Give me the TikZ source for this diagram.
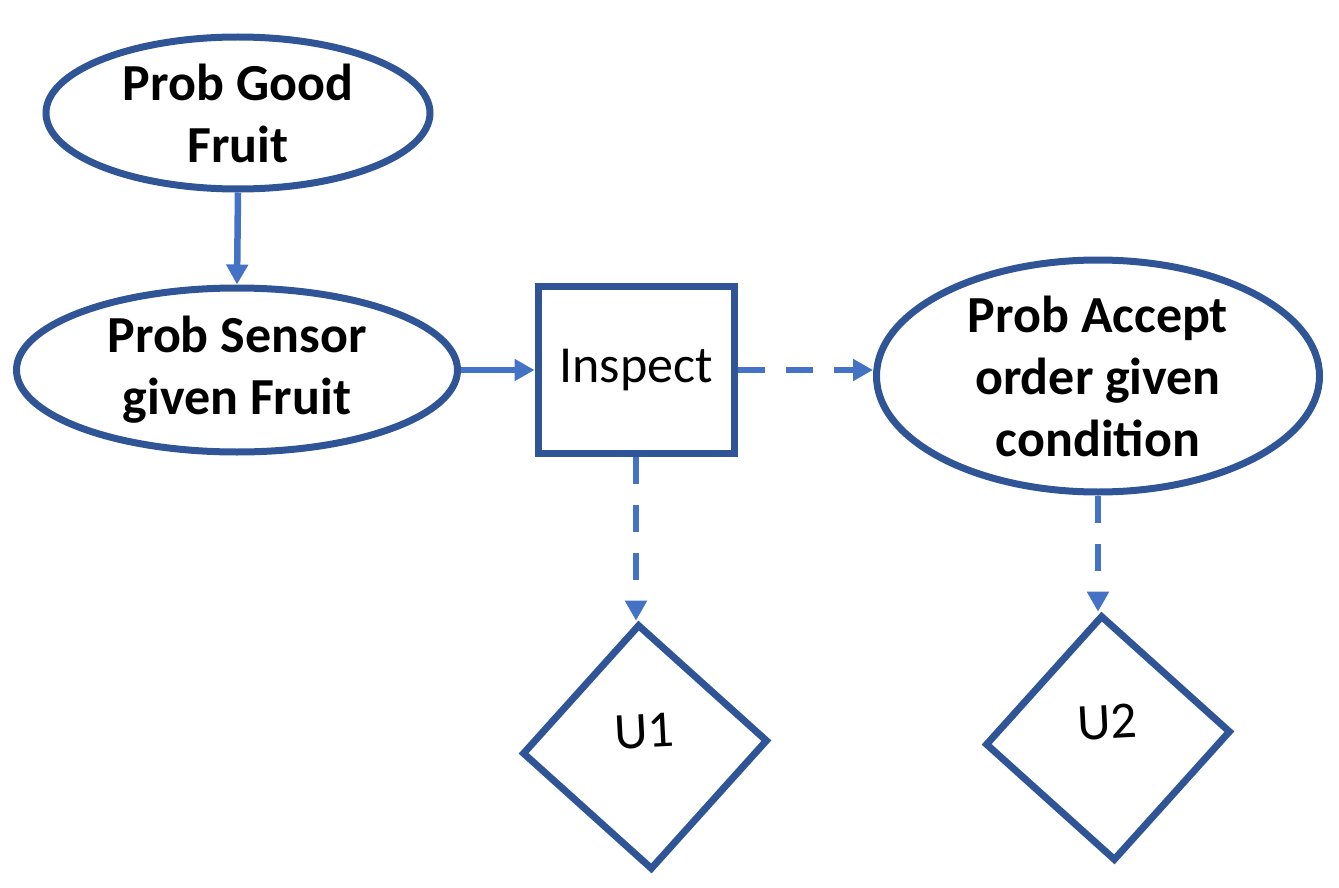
\documentclass[tikz,border=0pt]{standalone}
\usepackage{fontspec}
\setmainfont{Carlito}
\usetikzlibrary{shapes.geometric,arrows.meta}
\definecolor{lineblue}{HTML}{2F5597}
\definecolor{arrowblue}{HTML}{4472C4}
\begin{document}
\begin{tikzpicture}[x=1pt, y=-1pt,
  every node/.style={font=\fontsize{52}{62}\selectfont, inner sep=0pt, line width=7pt, draw=lineblue, align=center},
  chance/.style={ellipse, font=\fontsize{52}{62}\selectfont\bfseries},
  decision/.style={rectangle, minimum width=196pt, minimum height=167pt},
  utility/.style={diamond, minimum width=246pt, minimum height=246pt, rotate=3},
  link/.style={-{Triangle[length=20pt,width=21pt]}, line width=6.5pt, arrowblue},
  maybe/.style={link, dash pattern=on 27pt off 21pt}]
\useasboundingbox (0,0) rectangle (1339,888);
\node[chance, minimum width=384pt, minimum height=152pt] (good) at (238,113) {Prob Good\\Fruit};
\node[chance, minimum width=441pt, minimum height=164pt] (sensor) at (237,370) {Prob Sensor\\given Fruit};
\node[decision] (inspect) at (636,370) {Inspect};
\node[chance, minimum width=443pt, minimum height=232pt] (accept) at (1098,376) {Prob Accept\\order given\\condition};
\node[utility] (u1) at (645,747) {\raisebox{-1pt}[0pt][0pt]{U1}};
\node[utility] (u2) at (1108,738) {\raisebox{-1pt}[0pt][0pt]{U2}};
\draw[link] (good.south) -- (sensor.north);
\draw[link] (sensor.east) -- (inspect.west);
\draw[maybe] (inspect.east) -- (inspect.east -| accept.west);
\draw[maybe] (inspect.south) -- (inspect.south |- u1.north);
\draw[maybe] (accept.south) -- (accept.south |- u2.north);
\end{tikzpicture}
\end{document}
